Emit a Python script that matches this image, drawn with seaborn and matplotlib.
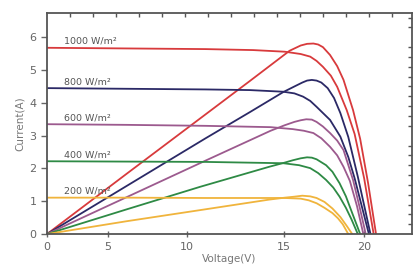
import numpy as np
import pandas as pd
import matplotlib
matplotlib.use("Agg")
import matplotlib.pyplot as plt
from matplotlib.ticker import MultipleLocator
import seaborn as sns

# irradiance levels and colours
levels = ["1000 W/m²", "800 W/m²", "600 W/m²", "400 W/m²", "200 W/m²"]
colors = ["#d83a3c", "#2b2966", "#9c5a8e", "#2e8a45", "#f0b43c"]

# I-V curves (voltage, current)
iv_v = {
    "1000 W/m²": [0, 5, 10, 13, 15, 16, 16.6, 17.0, 17.4, 17.9, 18.3, 18.9, 19.4, 20.0, 20.6],
    "800 W/m²": [0, 5, 10, 12.8, 14.9, 15.6, 16.15, 16.6, 17.0, 17.85, 18.5, 19.0, 19.4, 19.85, 20.3],
    "600 W/m²": [0, 5, 10, 14.1, 15.5, 16.2, 16.8, 17.3, 17.85, 18.3, 18.7, 19.1, 19.55, 19.95],
    "400 W/m²": [0, 5, 10, 14.9, 15.9, 16.6, 17.1, 17.6, 18.05, 18.45, 18.85, 19.2, 19.6],
    "200 W/m²": [0, 5, 10, 15, 16.0, 16.5, 17.0, 17.5, 18.0, 18.35, 18.65, 19.0],
}
iv_i = {
    "1000 W/m²": [5.68, 5.66, 5.64, 5.61, 5.56, 5.49, 5.41, 5.28, 5.10, 4.83, 4.49, 3.78, 3.05, 1.7, 0],
    "800 W/m²": [4.45, 4.43, 4.41, 4.39, 4.34, 4.29, 4.19, 4.06, 3.88, 3.48, 2.97, 2.35, 1.7, 0.85, 0],
    "600 W/m²": [3.35, 3.33, 3.30, 3.26, 3.20, 3.15, 3.08, 2.92, 2.66, 2.40, 2.05, 1.62, 0.85, 0],
    "400 W/m²": [2.22, 2.21, 2.20, 2.16, 2.10, 2.01, 1.86, 1.65, 1.42, 1.14, 0.80, 0.45, 0],
    "200 W/m²": [1.11, 1.11, 1.10, 1.10, 1.08, 1.03, 0.94, 0.80, 0.64, 0.48, 0.30, 0],
}

# P-V curves (scaled power) on the same axes
pv_v = {
    "1000 W/m²": [0, 5, 10, 12.8, 15.3, 16.0, 16.4, 16.8, 17.1, 17.4, 17.85, 18.3, 18.7, 19.3, 19.75, 20.25, 20.75],
    "800 W/m²": [0, 5, 10, 12.8, 14.9, 15.6, 16.1, 16.4, 16.7, 17.0, 17.3, 17.7, 18.1, 18.5, 19.0, 19.6, 20.4],
    "600 W/m²": [0, 5, 10, 14.1, 15.0, 15.6, 16.0, 16.35, 16.7, 17.0, 17.4, 17.85, 18.3, 18.7, 19.3, 19.7, 20.1],
    "400 W/m²": [0, 5, 9.65, 14, 15.0, 15.5, 16.0, 16.4, 16.7, 17.0, 17.6, 18.0, 18.45, 18.85, 19.2, 19.75],
    "200 W/m²": [0, 5, 9.65, 14, 15.0, 15.6, 16.1, 16.6, 17.0, 17.5, 18.0, 18.5, 18.9, 19.25],
}
pv_p = {
    "1000 W/m²": [0, 1.83, 3.65, 4.67, 5.59, 5.75, 5.80, 5.81, 5.78, 5.70, 5.46, 5.12, 4.70, 3.78, 2.90, 1.55, 0],
    "800 W/m²": [0, 1.46, 2.92, 3.72, 4.33, 4.50, 4.62, 4.68, 4.70, 4.68, 4.62, 4.45, 4.15, 3.69, 2.96, 1.75, 0],
    "600 W/m²": [0, 1.12, 2.24, 3.15, 3.32, 3.42, 3.47, 3.50, 3.49, 3.42, 3.28, 3.08, 2.85, 2.56, 1.65, 0.85, 0],
    "400 W/m²": [0, 0.75, 1.44, 2.05, 2.18, 2.25, 2.31, 2.34, 2.33, 2.28, 2.10, 1.90, 1.55, 1.15, 0.70, 0],
    "200 W/m²": [0, 0.39, 0.73, 1.05, 1.11, 1.14, 1.17, 1.15, 1.10, 0.98, 0.78, 0.52, 0.25, 0],
}

# tick labels as printed on the picture's voltage axis
xtick_pos = [0, 3.85, 8.83, 14.95, 20.0]
xtick_labels = ["0", "5", "10", "15", "20"]

sns.set_style("ticks")
plt.rcParams["font.family"] = ["DejaVu Sans"]

fig = plt.figure(figsize=(4.14, 2.77), dpi=100)
ax = fig.add_axes([0.1135, 0.155, 0.881, 0.798])

for name, col in zip(levels, colors):
    iv = pd.DataFrame({"V": iv_v[name], "I": iv_i[name]})
    pv = pd.DataFrame({"V": pv_v[name], "I": pv_p[name]})
    sns.lineplot(data=iv, x="V", y="I", color=col, lw=1.3, sort=False, ax=ax)
    sns.lineplot(data=pv, x="V", y="I", color=col, lw=1.3, sort=False, ax=ax)
    ax.text(1.1, iv_i[name][0] + 0.2, name, fontsize=6.8, color="#555555",
            va="center", ha="left")

ax.set_xlim(0, 23.0)
ax.set_ylim(0, 6.74)
ax.set_xticks(xtick_pos)
ax.set_xticklabels(xtick_labels)
ax.set_yticks(range(0, 7))
ax.set_xlabel("Voltage(V)", fontsize=7.5, color="#777777", labelpad=2)
ax.set_ylabel("Current(A)", fontsize=7.5, color="#777777", labelpad=3)
ax.tick_params(axis="both", which="major", labelsize=8, colors="#666666",
               length=4, width=1, top=False, right=False)
ax.tick_params(axis="x", which="major", direction="inout")

# small inward ticks along the top and right frame
ax.xaxis.set_minor_locator(MultipleLocator(1.45))
ax.yaxis.set_minor_locator(MultipleLocator(0.3))
ax.tick_params(axis="both", which="minor", direction="in", length=3, width=1,
               color="#555555", top=True, right=True, bottom=False, left=False)

for s in ax.spines.values():
    s.set_color("#555555")
    s.set_linewidth(1.3)

plt.savefig("out.png", dpi=100)
